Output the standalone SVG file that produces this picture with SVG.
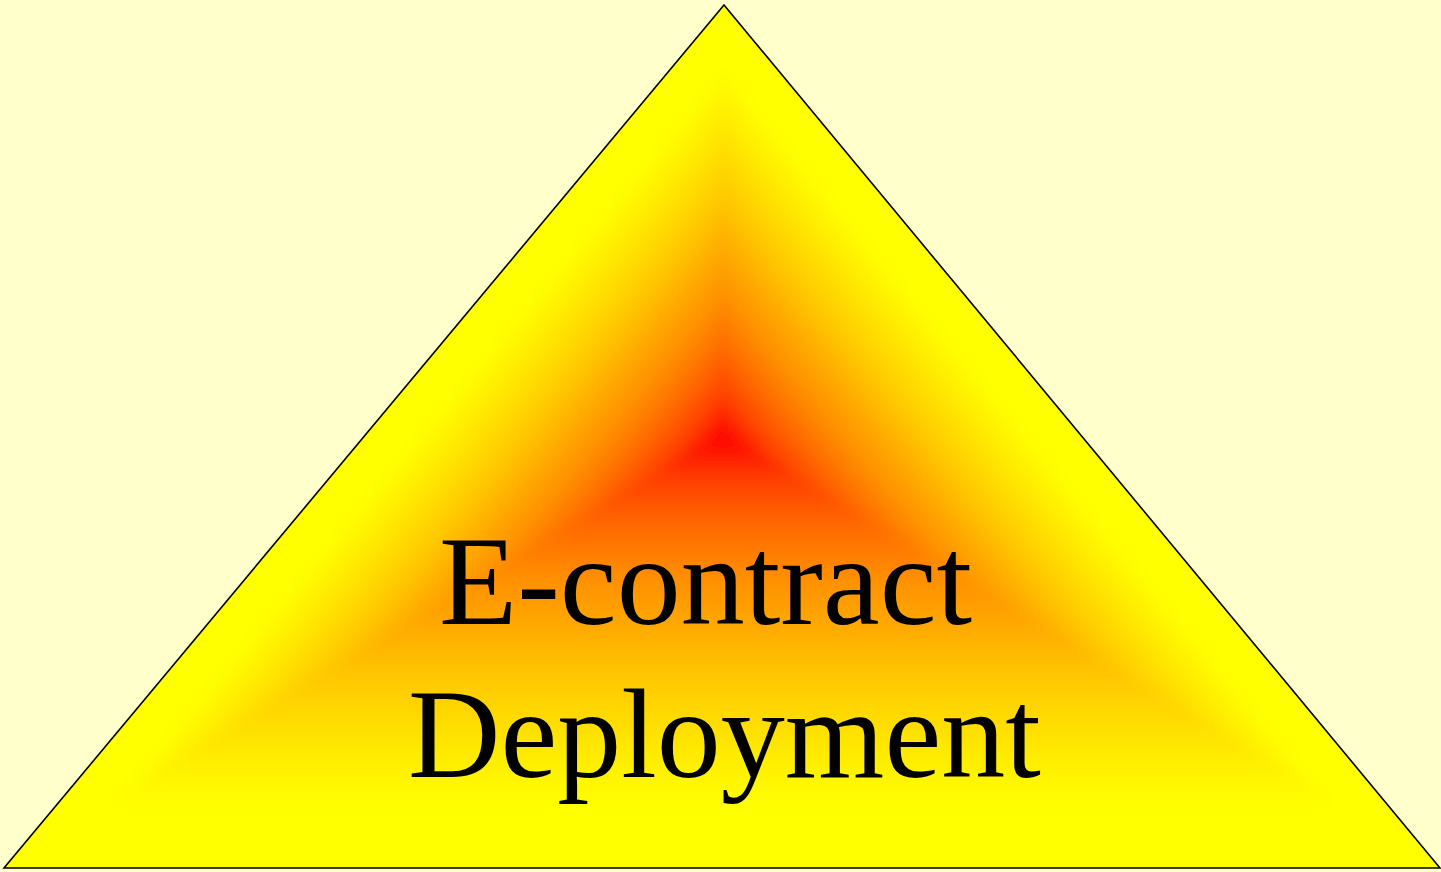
<svg xmlns="http://www.w3.org/2000/svg" width="1441" height="872" viewBox="0 0 1441 872">
  <style>
    .lbl { font-family: "Liberation Serif", "Times New Roman", serif; font-size: 128px; fill: #000000; }
    .outline { fill: none; stroke: #000000; stroke-width: 1.6; stroke-linejoin: miter; }
  </style>
  <defs>
    <linearGradient id="gLeft" gradientUnits="userSpaceOnUse" x1="723" y1="437" x2="511.1" y2="260.2">
      <stop offset="0" stop-color="#FF0000"/>
      <stop offset="0.1" stop-color="#FF4000"/>
      <stop offset="0.21" stop-color="#FF6A00"/>
      <stop offset="0.33" stop-color="#FF9000"/>
      <stop offset="0.45" stop-color="#FFAC00"/>
      <stop offset="0.56" stop-color="#FFC800"/>
      <stop offset="0.68" stop-color="#FFE000"/>
      <stop offset="0.8" stop-color="#FFF600"/>
      <stop offset="0.86" stop-color="#FFFF00"/>
      <stop offset="1" stop-color="#FFFF00"/>
    </linearGradient>
    <linearGradient id="gRight" href="#gLeft" gradientUnits="userSpaceOnUse" x1="723" y1="437" x2="935.9" y2="260.4"/>
    <linearGradient id="gBottom" href="#gLeft" gradientUnits="userSpaceOnUse" x1="723" y1="437" x2="723" y2="868"/>
    <clipPath id="triClip">
      <polygon points="724,5 4,868 1440,868"/>
    </clipPath>
    <filter id="soften" x="-10%" y="-10%" width="120%" height="120%">
      <feGaussianBlur stdDeviation="6"/>
    </filter>
  </defs>
  <rect x="0" y="0" width="1441" height="872" fill="#FFFFCC"/>
  <g id="triangle">
    <g clip-path="url(#triClip)">
      <g filter="url(#soften)">
        <polygon points="723,437 723.1,-38 -69,911" fill="url(#gLeft)" stroke="url(#gLeft)" stroke-width="1.5" stroke-linejoin="round"/>
        <polygon points="723,437 723.1,-38 1515,911" fill="url(#gRight)" stroke="url(#gRight)" stroke-width="1.5" stroke-linejoin="round"/>
        <polygon points="723,437 -69,911 1515,911" fill="url(#gBottom)" stroke="url(#gBottom)" stroke-width="1.5" stroke-linejoin="round"/>
      </g>
    </g>
    <polygon class="outline" points="724,5 4,868 1440,868"/>
    <text class="lbl" x="439" y="624">E-contract</text>
    <text class="lbl" x="408" y="777">Deployment</text>
  </g>
</svg>
